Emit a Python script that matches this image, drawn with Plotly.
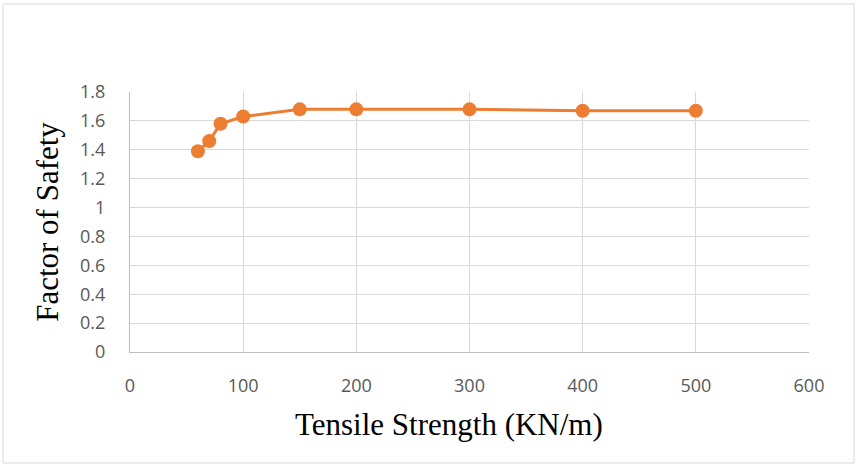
import plotly.graph_objects as go

tensile = [60, 70, 80, 100, 150, 200, 300, 400, 500]
fos = [1.39, 1.46, 1.58, 1.63, 1.68, 1.68, 1.68, 1.67, 1.67]
x_title = "Tensile Strength (KN/m)"
y_title = "Factor of Safety"

W, H = 857, 465
ml, mr, mt, mb = 130, 48, 92, 113
pw, ph = W - ml - mr, H - mt - mb

fig = go.Figure()
fig.add_trace(go.Scatter(
    x=tensile, y=fos, mode="lines+markers",
    line=dict(color="#ED7D31", width=3),
    marker=dict(color="#ED7D31", size=14),
    showlegend=False,
))

tickfont = dict(family="Open Sans, Liberation Sans, sans-serif", size=18, color="#595959")
titlefont = dict(family="Liberation Serif, Times New Roman, serif", size=31, color="black")
fig.update_layout(
    width=W, height=H,
    margin=dict(l=ml, r=mr, t=mt, b=mb),
    paper_bgcolor="white", plot_bgcolor="white",
    xaxis=dict(range=[0, 600], dtick=100, showgrid=True, gridcolor="#d9d9d9", gridwidth=1,
               showline=True, linecolor="#bfbfbf", linewidth=1, zeroline=False,
               tickfont=tickfont, ticks="", ticklabelstandoff=17),
    yaxis=dict(range=[0, 1.8], dtick=0.2, showgrid=True, gridcolor="#d9d9d9", gridwidth=1,
               showline=True, linecolor="#bfbfbf", linewidth=1, zeroline=False,
               tickfont=tickfont, ticks="", tickformat="~g", ticklabelstandoff=20,
               title=dict(text=y_title, font=titlefont, standoff=12)),
)
fig.add_annotation(text=x_title, xref="paper", yref="paper",
                   x=(449 - ml) / pw, y=(H - mb - 424) / ph,
                   xanchor="center", yanchor="middle", showarrow=False, font=titlefont)
fig.add_shape(type="rect", xref="paper", yref="paper",
              x0=(3 - ml) / pw, x1=(854 - ml) / pw,
              y0=(H - mb - 463) / ph, y1=(H - mb - 4) / ph,
              line=dict(color="#d9d9d9", width=1), fillcolor="rgba(0,0,0,0)", layer="below")
fig.write_html("out.html")
